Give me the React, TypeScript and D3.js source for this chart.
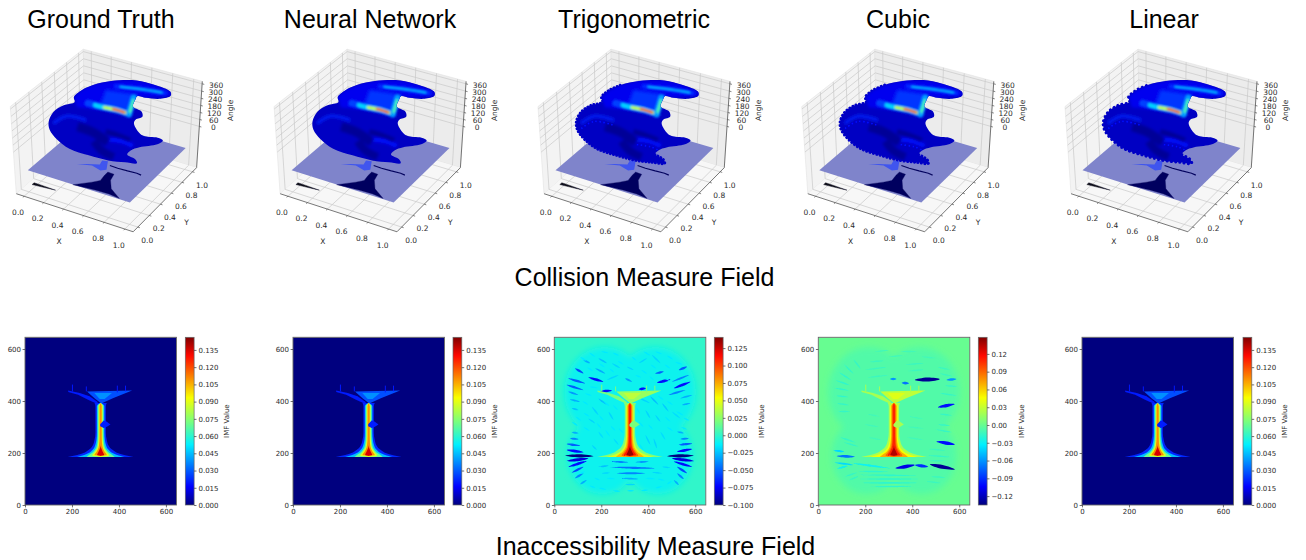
import { useEffect, useRef } from 'react';
import * as d3 from 'd3';

// titles
const topTitles = ['Ground Truth', 'Neural Network', 'Trigonometric', 'Cubic', 'Linear'];
const topTitleCenters = [101, 370, 634, 898, 1164];

// 3d panels
const panel3dOffsets = [0, 263.8, 527.7, 791.5, 1054.7];
const blobScallop = [0, 0, 3.2, 3.4, 4.2];
const xLim = [-0.08, 1.08];
const yLim = [-0.08, 1.08];
const zLim = [-370, 380];
const xyTicks = [0, 0.2, 0.4, 0.6, 0.8, 1];
const angleTicks = [0, 60, 120, 180, 240, 300, 360];
const planeAngle = -175;
const sectionY = 0.5;

// surface outline at y = 0.5
const blobX = [0.534, 0.766, 0.93, 1.077, 1.082, 0.992, 0.859, 0.777, 0.76, 0.74, 0.822, 0.83, 0.769, 0.752, 0.831, 0.979, 1.028, 0.977, 0.81, 0.725, 0.692, 0.773, 0.788, 0.672, 0.507, 0.309, 0.112, -0.016, -0.086, -0.093, -0.04, 0.061, 0.178, 0.171, 0.249, 0.367];
const blobAngle = [491, 550, 555, 536, 504, 459, 434, 427, 395, 334, 313, 273, 235, 197, 119, 137, 127, 81, 11, -39, -84, -105, -135, -158, -186, -194, -188, -136, -70, -2, 95, 176, 234, 274, 349, 421];
const blobUpperX = [0.171, 0.249, 0.367, 0.534, 0.766, 0.93, 1.08, 1.08, 0.86, 0.78, 0.76, 0.74, 0.45, 0.2];
const blobUpperAngle = [274, 349, 421, 491, 550, 555, 536, 504, 434, 427, 395, 334, 235, 195];
const stemX = [0.481, 0.778, 0.722, 0.427];
const stemAngle = [408, 441, 285, 269];

// ridge lines on top of the surface: x, angle, value, width
const ridges: [number[], number[], number, number][] = [
  [[0.308, 0.455, 0.594, 0.702], [256, 259, 269, 263], 0.026, 7],
  [[0.38, 0.455, 0.594, 0.71], [257, 259, 269, 264], 0.048, 4.6],
  [[0.47, 0.594, 0.7], [260, 269, 264], 0.085, 3],
  [[0.55, 0.6, 0.66], [266, 269, 266], 0.13, 1.9],
  [[0.702, 0.725, 0.747], [263, 335, 408], 0.04, 6],
  [[0.712, 0.728, 0.742], [285, 335, 385], 0.065, 2.6],
  [[0.581, 0.8, 1.027], [459, 490, 512], 0.022, 5],
  [[0.62, 0.8, 1.0], [465, 490, 510], 0.048, 1.5],
];
// lighter and darker bands on the surface
const shadeBands: [number[], number[], number, number][] = [
  [[-0.044, 0.09, 0.288], [-4, 92, 108], 0.022, 2.6],
  [[0.514, 0.646, 0.745], [0, 17, 5], 0.018, 4],
  [[0.364, 0.444, 0.56], [-54, -118, -140], 0.003, 8],
  [[0.2, 0.36, 0.5], [30, 20, -30], 0.003, 9],
  [[0.48, 0.62, 0.72], [60, 58, 48], 0.003, 5],
];

// shapes on the plane and floor
const wedgeX = [0.312, 0.437, 0.539, 0.578, 0.52, 0.472, 0.486, 0.387];
const wedgeY = [0.296, 0.34, 0.308, 0.344, 0.469, 0.453, 0.388, 0.341];
const rootX = [0.451, 0.569, 0.618, 0.608, 0.607, 0.67, 0.692, 0.763, 0.894, 0.785, 0.654];
const rootY = [-0.002, 0.112, 0.171, 0.258, 0.318, 0.313, 0.216, 0.104, 0.011, 0.026, 0.021];
const branchX = [0.569, 0.65, 0.743, 0.83, 0.876];
const branchY = [0.418, 0.412, 0.417, 0.425, 0.417];
const floorBlobX = [-0.04, 0.02, 0.185, 0.02, -0.04];
const floorBlobY = [0.145, 0.145, 0.138, 0.118, 0.112];

// heatmaps
const heatDomainMax = 645;
const heatTicks = [0, 200, 400, 600];
const heatY0 = 337.3;
const heatY1 = 505;
const heatLefts = [25, 293, 554.3, 818.3, 1082];
const heatWidth = 151.5;
const barLefts = [185.3, 453, 714.3, 978.3, 1243];
const barWidth = 8.8;
const barLabelGaps = [33, 33, 39, 35, 33];
const domains = [[0, 0.146], [0, 0.146], [-0.1, 0.1405], [-0.135, 0.148], [0, 0.146]];
const positiveTicks = [0, 0.015, 0.03, 0.045, 0.06, 0.075, 0.09, 0.105, 0.12, 0.135];
const trigTicks = [-0.1, -0.075, -0.05, -0.025, 0, 0.025, 0.05, 0.075, 0.1, 0.125];
const cubicTicks = [-0.12, -0.09, -0.06, -0.03, 0, 0.03, 0.06, 0.09, 0.12];
const barTicks = [positiveTicks, positiveTicks, trigTicks, cubicTicks, positiveTicks];
const barFormats = ['.3f', '.3f', '.3f', '.2f', '.3f'];

// I shaped field: half widths per level around the centre column
const iCenter = 322;
const iStops = [185, 188, 192, 198, 205, 215, 230, 250, 280, 330, 380, 392];
const iLevels = [0.022, 0.045, 0.07, 0.09, 0.11, 0.135];
const iHalfWidths = [
  [140, 120, 100, 78, 62, 46, 33, 26, 22, 22, 22, 26],
  [100, 85, 70, 55, 42, 31, 23, 18, 16, 16, 16, 0],
  [60, 55, 50, 41, 31, 22, 16, 13, 12, 12, 12, 0],
  [0, 35, 35, 30, 24, 16, 11, 9, 8, 8, 8, 0],
  [0, 0, 26, 23, 17, 11, 7, 5, 4.5, 4.5, 4.5, 0],
  [0, 0, 15, 13, 9, 4, 0, 0, 0, 0, 0, 0],
];
const capX = [264, 456, 374, 325, 296];
const capY = [437, 440, 411, 390, 411];
const capInnerX = [295, 370, 339, 318];
const capInnerY = [431, 431, 408, 408];
const branchLeftX = [184, 233, 275, 311, 304, 268, 226, 184];
const branchLeftY = [440, 431, 418, 395, 390, 405, 424, 435];
const notchX = [320, 335, 347, 364, 347, 335, 320];
const notchY = [311, 325, 321, 310, 300, 296, 303];
const spikeX = [202, 261, 393, 428];
const spikeTop = [463, 456, 459, 459];
const spikeBottom = [437, 437, 433, 437];

// ripple lobes behind the trig and cubic fields
const lobeX = [215, 430, 205, 440];
const lobeY = [435, 435, 190, 190];
const lobeR = [172, 172, 148, 148];
const lobeValue = [0, 0, -0.009, -0.007, 0];

// ripples: x1, y1, x2, y2, value
const trigStreaks: number[][] = [
  [46, 190, 167, 188, -0.1], [53, 212, 124, 203, -0.07], [53, 235, 110, 228, -0.05], [67, 256, 103, 253, -0.04],
  [74, 280, 103, 276, -0.03], [53, 169, 145, 179, -0.08], [60, 147, 138, 169, -0.07], [74, 124, 124, 147, -0.055],
  [88, 103, 124, 122, -0.04], [110, 80, 138, 96, -0.03], [480, 188, 594, 190, -0.1], [523, 205, 587, 215, -0.07],
  [530, 231, 587, 237, -0.05], [537, 254, 573, 256, -0.04], [501, 179, 594, 169, -0.08], [509, 167, 587, 147, -0.07],
  [523, 147, 565, 122, -0.055], [523, 122, 551, 100, -0.04], [509, 96, 530, 77, -0.03], [523, 282, 551, 276, -0.03],
  [245, 167, 316, 164, -0.04], [345, 164, 402, 167, -0.035], [238, 145, 430, 141, -0.045], [188, 147, 231, 151, -0.025],
  [266, 122, 387, 122, -0.04], [288, 103, 359, 100, -0.03], [202, 122, 238, 124, -0.02], [416, 126, 459, 122, -0.02],
  [302, 79, 345, 79, -0.02], [224, 103, 259, 100, -0.015], [387, 103, 430, 100, -0.015], [459, 147, 494, 143, -0.02],
  [188, 282, 209, 256, -0.018], [217, 288, 238, 263, -0.015], [252, 256, 274, 231, -0.018], [388, 269, 409, 231, -0.02],
  [423, 256, 437, 218, -0.02], [452, 282, 473, 250, -0.018], [359, 237, 380, 211, -0.015], [274, 295, 295, 276, -0.015],
  [160, 231, 181, 211, -0.02],
  [145, 491, 209, 474, -0.07], [88, 526, 124, 506, -0.055], [60, 487, 131, 468, -0.05], [53, 462, 124, 442, -0.05],
  [60, 436, 103, 423, -0.035], [67, 406, 110, 397, -0.03], [74, 372, 103, 365, -0.025], [195, 436, 245, 440, -0.07],
  [174, 526, 217, 506, -0.03], [188, 564, 224, 545, -0.025], [124, 558, 153, 545, -0.03], [509, 449, 580, 474, -0.07],
  [501, 474, 573, 500, -0.04], [437, 470, 494, 483, -0.07], [430, 506, 466, 513, -0.05], [530, 519, 565, 532, -0.05],
  [359, 445, 390, 449, -0.07], [487, 423, 558, 442, -0.04], [537, 410, 587, 423, -0.03], [544, 385, 580, 391, -0.03],
  [302, 487, 331, 474, -0.035], [224, 481, 274, 500, -0.02], [359, 545, 395, 564, -0.02], [416, 577, 452, 545, -0.02],
  [245, 545, 281, 526, -0.02], [309, 532, 338, 519, -0.02], [188, 410, 224, 385, -0.025], [160, 378, 188, 346, -0.02],
  [231, 359, 252, 327, -0.02], [366, 410, 409, 391, -0.02], [409, 417, 444, 385, -0.025], [388, 365, 409, 333, -0.02],
  [459, 391, 487, 359, -0.022], [430, 346, 452, 320, -0.02], [145, 333, 174, 314, -0.02], [501, 359, 537, 333, -0.018],
  [150, 585, 175, 570, -0.015], [110, 570, 135, 555, -0.015], [200, 590, 230, 585, -0.015], [250, 585, 275, 575, -0.015],
  [190, 545, 215, 530, -0.015], [140, 530, 165, 515, -0.015], [235, 525, 255, 510, -0.015], [270, 555, 295, 540, -0.015],
  [380, 590, 410, 575, -0.015], [430, 590, 460, 580, -0.015], [480, 575, 505, 560, -0.015], [515, 550, 545, 540, -0.015],
  [370, 520, 395, 505, -0.015], [410, 540, 435, 525, -0.015], [470, 540, 495, 525, -0.015], [405, 495, 425, 480, -0.015],
  [330, 570, 350, 555, -0.015], [470, 490, 490, 478, -0.015], [345, 500, 370, 490, -0.015], [130, 430, 160, 420, -0.015],
  [150, 455, 185, 450, -0.015], [120, 400, 145, 385, -0.015], [90, 340, 115, 325, -0.015], [125, 355, 150, 340, -0.015],
  [190, 345, 210, 325, -0.015], [75, 320, 100, 305, -0.015], [210, 400, 235, 380, -0.015], [250, 385, 270, 365, -0.015],
  [180, 315, 200, 295, -0.015], [240, 305, 260, 285, -0.015], [125, 300, 150, 285, -0.015], [440, 420, 465, 405, -0.015],
  [480, 400, 505, 385, -0.015], [520, 360, 550, 345, -0.015], [470, 340, 495, 320, -0.015], [550, 335, 575, 325, -0.015],
  [400, 310, 420, 290, -0.015], [480, 300, 505, 285, -0.015], [540, 300, 565, 290, -0.015], [350, 375, 365, 350, -0.015],
  [360, 320, 380, 300, -0.015], [150, 75, 175, 65, -0.015], [190, 65, 220, 60, -0.015], [250, 55, 280, 52, -0.015],
  [310, 55, 340, 55, -0.015], [370, 55, 400, 58, -0.015], [430, 65, 460, 72, -0.015], [480, 80, 500, 92, -0.015],
  [170, 105, 195, 95, -0.015], [440, 100, 470, 95, -0.015], [110, 120, 130, 130, -0.015],
];
const cubicStreaks: number[][] = [
  [411, 481, 517, 484, -0.13], [305, 485, 333, 485, -0.06], [355, 470, 387, 468, -0.07], [546, 481, 588, 485, -0.06],
  [510, 376, 581, 388, -0.1], [503, 244, 581, 233, -0.1], [326, 141, 411, 154, -0.11], [411, 154, 468, 147, -0.09],
  [475, 156, 581, 137, -0.13], [78, 188, 155, 186, -0.07], [70, 163, 148, 154, -0.04], [65, 210, 110, 205, -0.04],
  [80, 140, 125, 150, -0.03], [150, 160, 306, 141, -0.03],
  [170, 130, 300, 128, -0.018], [170, 115, 420, 113, -0.018], [175, 100, 430, 100, -0.018], [190, 85, 420, 85, -0.018],
  [220, 70, 400, 72, -0.018], [110, 240, 170, 225, -0.016], [95, 260, 160, 240, -0.016], [115, 110, 165, 125, -0.016],
  [130, 95, 170, 110, -0.016], [90, 510, 140, 480, -0.018], [75, 480, 135, 460, -0.018], [70, 450, 130, 440, -0.018],
  [75, 420, 130, 415, -0.018], [80, 390, 130, 385, -0.016], [85, 360, 135, 360, -0.016], [110, 540, 150, 505, -0.016],
  [150, 560, 180, 525, -0.016], [200, 520, 290, 530, -0.014], [210, 490, 300, 500, -0.014], [220, 550, 280, 555, -0.014],
  [370, 540, 450, 545, -0.014], [380, 515, 450, 520, -0.014], [540, 460, 590, 455, -0.016], [520, 430, 590, 420, -0.016],
  [515, 350, 570, 345, -0.016], [510, 310, 560, 305, -0.016], [500, 290, 570, 280, -0.016], [210, 350, 260, 340, -0.012],
  [200, 310, 260, 300, -0.012], [390, 340, 450, 330, -0.012], [380, 300, 450, 295, -0.012], [215, 260, 270, 250, -0.012],
  [380, 260, 450, 250, -0.012], [470, 215, 540, 210, -0.014], [470, 190, 560, 185, -0.016], [470, 170, 540, 170, -0.014],
  [480, 110, 540, 105, -0.014], [460, 90, 520, 85, -0.014], [240, 590, 300, 595, -0.012], [350, 590, 420, 590, -0.012],
  [300, 570, 360, 575, -0.012], [440, 570, 500, 565, -0.012], [510, 530, 560, 520, -0.014], [520, 505, 570, 495, -0.014],
];
const streakSets = [[], [], trigStreaks, cubicStreaks, []];

// jet colour map
const jet = d3.scaleLinear<string>()
  .domain([0, 0.11, 0.36, 0.5, 0.64, 0.89, 1])
  .range(['#00007f', '#0000ff', '#00f0ff', '#7bff7b', '#f8ff00', '#ff0800', '#7f0000']);

const textColor = '#2b2b2b';
const tickFont = '"DejaVu Sans", sans-serif';

// mpl style 3d projection, elev 39 azim -60
const elev = (39 * Math.PI) / 180;
const azim = (-60 * Math.PI) / 180;
const dist = 10;
const w3 = [Math.cos(azim) * Math.cos(elev), Math.sin(azim) * Math.cos(elev), Math.sin(elev)];
const u3 = [-w3[1], w3[0], 0].map((d) => d / Math.hypot(w3[0], w3[1]));
const v3 = [-w3[2] * u3[1], w3[2] * u3[0], w3[0] * u3[1] - w3[1] * u3[0]];
const worldX = d3.scaleLinear().domain(xLim).range([-0.5, 0.5]);
const worldY = d3.scaleLinear().domain(yLim).range([-0.5, 0.5]);
const worldZ = d3.scaleLinear().domain(zLim).range([-0.5, 0.5]);
const viewX = d3.scaleLinear().domain([-0.1, 0.1]).range([107.7 - 136.1, 107.7 + 136.1]);
const viewY = d3.scaleLinear().domain([-0.1, 0.1]).range([138.5 + 111.5, 138.5 - 111.5]);

function project(x: number, y: number, z: number): [number, number] {
  const p = [worldX(x), worldY(y), worldZ(z)];
  const dot = (a: number[]) => a[0] * p[0] + a[1] * p[1] + a[2] * p[2];
  const depth = dist - dot(w3);
  return [viewX(dot(u3) / depth), viewY(dot(v3) / depth)];
}

function zipPoints(xs: number[], ys: number[]) {
  return xs.map((d, i) => [d, ys[i]]);
}

function drawPanel3d(root: any, index: number) {
  const g = root.append('g').attr('transform', `translate(${panel3dOffsets[index]},0)`);
  const [x0, x1] = xLim;
  const [y0, y1] = yLim;
  const [z0, z1] = zLim;
  const poly = d3.line();
  const ring = (pts: number[][]) => poly(pts.map((p) => project(p[0], p[1], p[2]))) + 'Z';
  const segment = (a: number[], b: number[], stroke: string, width: number) => {
    const pa = project(a[0], a[1], a[2]);
    const pb = project(b[0], b[1], b[2]);
    g.append('line').attr('x1', pa[0]).attr('y1', pa[1]).attr('x2', pb[0]).attr('y2', pb[1])
      .attr('stroke', stroke).attr('stroke-width', width);
  };

  // panes
  g.append('path').attr('d', ring([[x0, y0, z0], [x0, y1, z0], [x0, y1, z1], [x0, y0, z1]])).attr('fill', '#f3f3f3').attr('stroke', '#e2e2e2').attr('stroke-width', 0.6);
  g.append('path').attr('d', ring([[x0, y1, z0], [x1, y1, z0], [x1, y1, z1], [x0, y1, z1]])).attr('fill', '#ececec').attr('stroke', '#e2e2e2').attr('stroke-width', 0.6);
  g.append('path').attr('d', ring([[x0, y0, z0], [x1, y0, z0], [x1, y1, z0], [x0, y1, z0]])).attr('fill', '#f7f7f7');

  // grid
  const gridColor = '#c9c9c9';
  xyTicks.forEach((t) => {
    segment([t, y0, z0], [t, y1, z0], gridColor, 0.7);
    segment([t, y1, z0], [t, y1, z1], gridColor, 0.7);
    segment([x1, t, z0], [x0, t, z0], gridColor, 0.7);
    segment([x0, t, z0], [x0, t, z1], gridColor, 0.7);
  });
  angleTicks.forEach((t) => {
    segment([x0, y0, t], [x0, y1, t], gridColor, 0.7);
    segment([x0, y1, t], [x1, y1, t], gridColor, 0.7);
  });

  const soft = g.append('g').attr('filter', 'url(#soft)');

  // floor silhouette
  soft.append('path')
    .attr('d', ring(zipPoints(floorBlobX, floorBlobY).map((p) => [p[0], p[1], z0])))
    .attr('fill', '#0a0a1a').attr('stroke', '#0a0a1a').attr('stroke-width', 0.4);

  // plane with field shapes
  soft.append('path').attr('d', ring([[0, 0, planeAngle], [1, 0, planeAngle], [1, 1, planeAngle], [0, 1, planeAngle]]))
    .attr('fill', '#7f84cb');
  soft.append('path').attr('d', ring(zipPoints(wedgeX, wedgeY).map((p) => [p[0], p[1], planeAngle])))
    .attr('fill', '#3f55ee');
  soft.append('path').attr('d', ring(zipPoints(rootX, rootY).map((p) => [p[0], p[1], planeAngle])))
    .attr('fill', '#06065e').attr('stroke', '#06065e').attr('stroke-width', 0.3);
  soft.append('path').attr('d', poly(zipPoints(branchX, branchY).map((p) => project(p[0], p[1], planeAngle))))
    .attr('fill', 'none').attr('stroke', '#06065e').attr('stroke-width', 1.2);

  // surface
  const section = () => d3.line<number[]>()
    .x((p) => project(p[0], sectionY, p[1])[0])
    .y((p) => project(p[0], sectionY, p[1])[1]);
  const blobPoints = zipPoints(blobX, blobAngle);
  const outline = section().curve(d3.curveCatmullRomClosed)(blobPoints);
  const barColor = d3.scaleLinear().domain(domains[0]).range([0, 1]);
  const surfaceColor = (v: number) => jet(barColor(v));
  const clipId = `blob-clip-${index}`;
  root.select('defs').append('clipPath').attr('id', clipId).append('path').attr('d', outline);

  const surface = soft.append('g');
  const scallop = blobScallop[index];
  if (scallop > 0) {
    // stepped edge on the left and lower side only
    surface.append('path').attr('d', section().curve(d3.curveCatmullRom)(blobPoints.slice(20, 36))).attr('fill', 'none')
      .attr('stroke', surfaceColor(0.009)).attr('stroke-width', 3).attr('stroke-linecap', 'round')
      .attr('stroke-dasharray', `0.1 ${scallop}`);
  }
  surface.append('path').attr('d', outline).attr('fill', surfaceColor(0.0085));

  const inner = surface.append('g').attr('clip-path', `url(#${clipId})`).append('g').attr('filter', 'url(#shade)');
  inner.append('path').attr('d', section()(zipPoints(blobUpperX, blobUpperAngle)) + 'Z').attr('fill', surfaceColor(0.014));
  shadeBands.forEach(([xs, zs, v, width]) => {
    inner.append('path').attr('d', section().curve(d3.curveCatmullRom)(zipPoints(xs, zs)))
      .attr('fill', 'none').attr('stroke', surfaceColor(v)).attr('stroke-width', width);
  });
  if (scallop > 0) {
    shadeBands.slice(0, 2).forEach(([xs, zs]) => {
      surface.append('g').attr('clip-path', `url(#${clipId})`).append('path').attr('d', section().curve(d3.curveCatmullRom)(zipPoints(xs, zs.map((z) => z - 45))))
        .attr('fill', 'none').attr('stroke', surfaceColor(0.018)).attr('stroke-width', 1.6)
        .attr('stroke-dasharray', '1.5 2.5');
    });
  }

  const ridgesGroup = surface.append('g').attr('clip-path', `url(#${clipId})`).append('g').attr('filter', 'url(#ridge)');
  ridgesGroup.append('path').attr('d', section()(zipPoints(stemX, stemAngle)) + 'Z').attr('fill', surfaceColor(0.024)).attr('filter', 'url(#shade)');
  ridges.forEach(([xs, zs, v, width]) => {
    ridgesGroup.append('path').attr('d', section().curve(d3.curveCatmullRom)(zipPoints(xs, zs)))
      .attr('fill', 'none').attr('stroke', surfaceColor(v)).attr('stroke-width', width).attr('stroke-linecap', 'round');
  });

  // axes
  const axisColor = '#555';
  segment([x0, y0, z0], [x1, y0, z0], axisColor, 0.8);
  segment([x1, y0, z0], [x1, y1, z0], axisColor, 0.8);
  segment([x1, y1, z0], [x1, y1, z1], axisColor, 0.8);

  const label = (p: [number, number], dx: number, dy: number, text: string, rotate = 0) => {
    const t = g.append('text').attr('font-family', tickFont).attr('font-size', 7.5).attr('fill', textColor)
      .attr('text-anchor', 'middle').attr('dominant-baseline', 'central').text(text);
    if (rotate) t.attr('transform', `translate(${p[0] + dx},${p[1] + dy}) rotate(${rotate})`);
    else t.attr('x', p[0] + dx).attr('y', p[1] + dy);
  };
  xyTicks.forEach((t) => {
    const a = project(t, y0, z0);
    const tx = project(t, y0 - 0.02, z0);
    g.append('line').attr('x1', a[0]).attr('y1', a[1]).attr('x2', tx[0]).attr('y2', tx[1]).attr('stroke', axisColor).attr('stroke-width', 0.7);
    label(a, -6, 16, d3.format('.1f')(t));
    const b = project(x1, t, z0);
    const ty = project(x1 + 0.02, t, z0);
    g.append('line').attr('x1', b[0]).attr('y1', b[1]).attr('x2', ty[0]).attr('y2', ty[1]).attr('stroke', axisColor).attr('stroke-width', 0.7);
    label(b, 9.5, 13.5, d3.format('.1f')(t));
  });
  angleTicks.forEach((t) => {
    const c = project(x1, y1, t);
    const tz = project(x1 + 0.02, y1, t);
    g.append('line').attr('x1', c[0]).attr('y1', c[1]).attr('x2', tz[0]).attr('y2', tz[1]).attr('stroke', axisColor).attr('stroke-width', 0.7);
    label(c, 14, 1.5, String(t));
  });
  label(project(0.5, y0, z0), -14.5, 29, 'X');
  label(project(x1, 0.5, z0), 20.5, 24, 'Y');
  label(project(x1, y1, 180), 30, 5, 'Angle', -90);
}

function drawHeatmap(root: any, index: number) {
  const left = heatLefts[index];
  const x = d3.scaleLinear().domain([0, heatDomainMax]).range([left, left + heatWidth]);
  const y = d3.scaleLinear().domain([0, heatDomainMax]).range([heatY1, heatY0]);
  const domain = domains[index];
  const toUnit = d3.scaleLinear().domain(domain).range([0, 1]);
  const color = (v: number) => jet(toUnit(v));
  const g = root.append('g');
  const clipId = `heat-clip-${index}`;
  root.select('defs').append('clipPath').attr('id', clipId)
    .append('rect').attr('x', left).attr('y', heatY0).attr('width', heatWidth).attr('height', heatY1 - heatY0);

  const field = g.append('g').attr('clip-path', `url(#${clipId})`);
  field.append('rect').attr('x', left).attr('y', heatY0).attr('width', heatWidth).attr('height', heatY1 - heatY0)
    .attr('fill', color(0));

  // ripples
  const streaks = streakSets[index];
  if (streaks.length) {
    const ripple = field.append('g').attr('filter', 'url(#ripple)');
    lobeX.forEach((cx, i) => {
      ripple.append('ellipse').attr('cx', x(cx)).attr('cy', y(lobeY[i]))
        .attr('rx', x(lobeR[i]) - x(0)).attr('ry', y(0) - y(lobeR[i]))
        .attr('fill', color(lobeValue[index]));
    });
    const widthScale = d3.scaleLinear().domain([0, 0.13]).range([1.2, 4]);
    const lens = d3.line().curve(d3.curveCatmullRomClosed);
    const streakLayer = field.append('g').attr('filter', 'url(#streak)');
    streaks.forEach((s) => {
      const ax = x(s[0]);
      const ay = y(s[1]);
      const bx = x(s[2]);
      const by = y(s[3]);
      const len = Math.hypot(bx - ax, by - ay);
      const half = widthScale(-s[4]) / 2;
      const nx = ((by - ay) / len) * half;
      const ny = ((ax - bx) / len) * half;
      const mx = (ax + bx) / 2;
      const my = (ay + by) / 2;
      streakLayer.append('path')
        .attr('d', lens([[ax, ay], [mx + nx, my + ny], [bx, by], [mx - nx, my - ny]]))
        .attr('fill', color(s[4]));
    });
  }

  // I shaped measure
  const shape = field.append('g').attr('filter', 'url(#heatsoft)');
  const fillPoly = (xs: number[], ys: number[], v: number) => {
    shape.append('path')
      .attr('d', d3.line<number[]>().x((p) => x(p[0])).y((p) => y(p[1]))(zipPoints(xs, ys)) + 'Z')
      .attr('fill', color(v));
  };
  fillPoly(branchLeftX, branchLeftY, 0.02);
  fillPoly(capX, capY, 0.028);
  fillPoly(capInnerX, capInnerY, 0.038);
  spikeX.forEach((sx, i) => {
    shape.append('line').attr('x1', x(sx)).attr('y1', y(spikeTop[i])).attr('x2', x(sx)).attr('y2', y(spikeBottom[i]))
      .attr('stroke', color(0.02)).attr('stroke-width', 1);
  });
  iLevels.forEach((v, i) => {
    const area = d3.area<number>()
      .y((d) => y(d))
      .x0((_, k) => x(iCenter - iHalfWidths[i][k]))
      .x1((_, k) => x(iCenter + iHalfWidths[i][k]))
      .curve(d3.curveMonotoneY);
    shape.append('path').attr('d', area(iStops)).attr('fill', color(v));
  });
  fillPoly(notchX, notchY, 0.02);

  // frame and axes
  g.append('rect').attr('x', left).attr('y', heatY0).attr('width', heatWidth).attr('height', heatY1 - heatY0)
    .attr('fill', 'none').attr('stroke', '#666').attr('stroke-width', 0.9);
  const styleAxis = (a: any) => {
    a.select('.domain').remove();
    a.selectAll('line').attr('stroke', '#333').attr('stroke-width', 0.7);
    a.selectAll('text').attr('font-family', tickFont).attr('font-size', 7).attr('fill', textColor);
  };
  g.append('g').attr('transform', `translate(0,${heatY1})`)
    .call(d3.axisBottom(x).tickValues(heatTicks).tickSize(2.4).tickPadding(1.6).tickFormat(d3.format('d') as any))
    .call(styleAxis);
  g.append('g').attr('transform', `translate(${left},0)`)
    .call(d3.axisLeft(y).tickValues(heatTicks).tickSize(2.4).tickPadding(1.6).tickFormat(d3.format('d') as any))
    .call(styleAxis);

  // colour bar
  const barLeft = barLefts[index];
  const gradId = `bar-grad-${index}`;
  const grad = root.select('defs').append('linearGradient').attr('id', gradId)
    .attr('x1', 0).attr('y1', 1).attr('x2', 0).attr('y2', 0);
  jet.domain().forEach((t: number) => {
    grad.append('stop').attr('offset', t).attr('stop-color', jet(t));
  });
  g.append('rect').attr('x', barLeft).attr('y', heatY0).attr('width', barWidth).attr('height', heatY1 - heatY0)
    .attr('fill', `url(#${gradId})`).attr('stroke', '#666').attr('stroke-width', 0.7);
  const barScale = d3.scaleLinear().domain(domain).range([heatY1, heatY0]);
  g.append('g').attr('transform', `translate(${barLeft + barWidth},0)`)
    .call(d3.axisRight(barScale).tickValues(barTicks[index]).tickSize(2.4).tickPadding(2).tickFormat(d3.format(barFormats[index]) as any))
    .call(styleAxis);
  g.append('text')
    .attr('transform', `translate(${barLeft + barWidth + barLabelGaps[index]},${(heatY0 + heatY1) / 2}) rotate(-90)`)
    .attr('text-anchor', 'middle').attr('dominant-baseline', 'central')
    .attr('font-family', tickFont).attr('font-size', 7).attr('fill', textColor)
    .text('IMF Value');
}

export default function App() {
  const ref = useRef<SVGSVGElement | null>(null);

  useEffect(() => {
    const svg = d3.select(ref.current);
    svg.selectAll('*').remove();

    const defs = svg.append('defs');
    const addBlur = (id: string, amount: number) => {
      defs.append('filter').attr('id', id).attr('x', '-20%').attr('y', '-20%').attr('width', '140%').attr('height', '140%')
        .append('feGaussianBlur').attr('stdDeviation', amount);
    };
    addBlur('soft', 0.45);
    addBlur('ridge', 0.9);
    addBlur('heatsoft', 0.7);
    addBlur('shade', 1.6);
    addBlur('ripple', 3);
    addBlur('streak', 0.6);

    panel3dOffsets.forEach((_, i) => drawPanel3d(svg, i));
    heatLefts.forEach((_, i) => drawHeatmap(svg, i));

    const title = (text: string, cx: number, baseline: number) => {
      svg.append('text').attr('x', cx).attr('y', baseline).attr('text-anchor', 'middle')
        .attr('font-family', '"Liberation Sans", Arial, sans-serif').attr('font-size', 25).attr('fill', '#000')
        .text(text);
    };
    topTitles.forEach((t, i) => title(t, topTitleCenters[i], 28));
    title('Collision Measure Field', 644.5, 286);
    title('Inaccessibility Measure Field', 655.5, 555);
  }, []);

  return (
    <svg ref={ref} width={1306} height={560} style={{ position: 'absolute', left: 0, top: 0, background: '#fff' }} />
  );
}
